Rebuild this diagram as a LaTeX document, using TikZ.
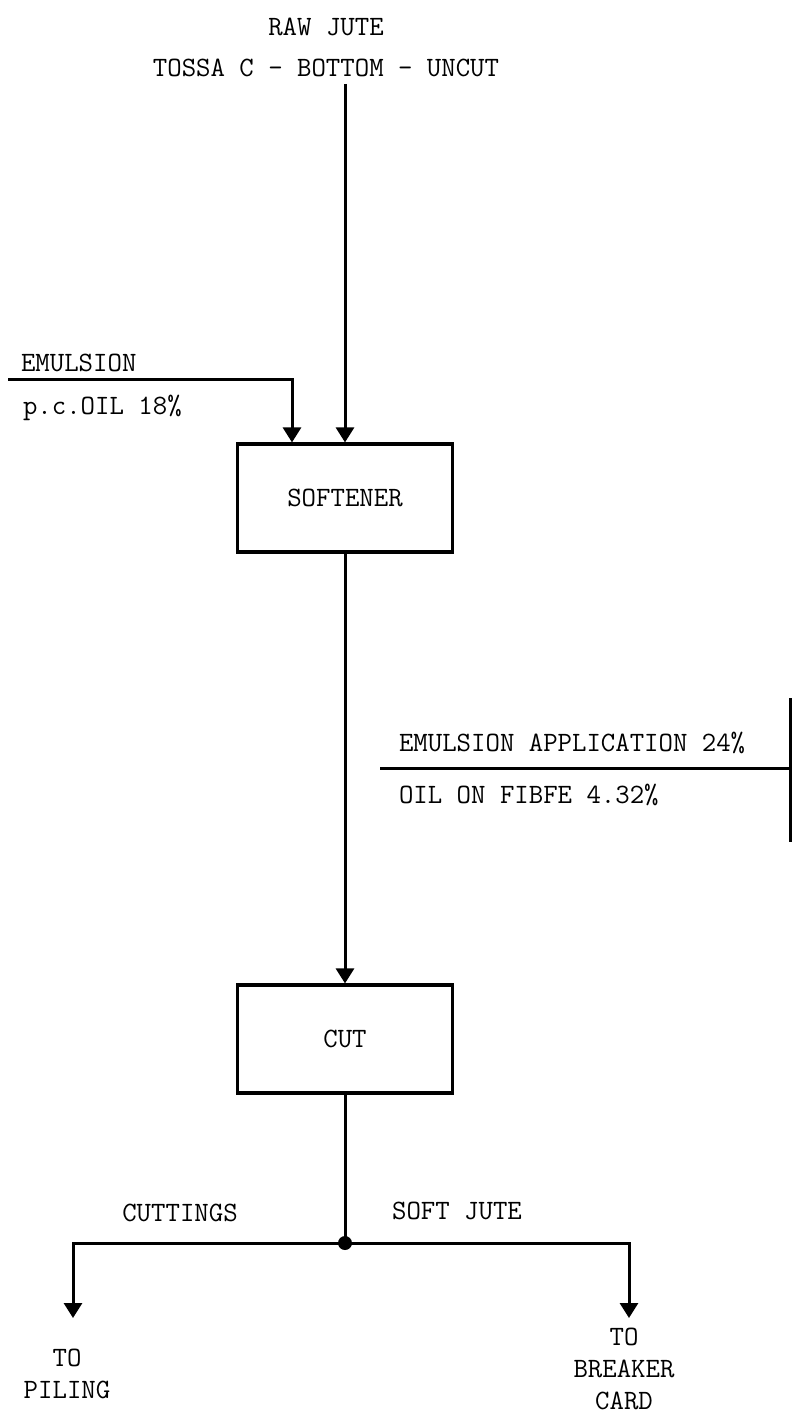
\documentclass[tikz,border=0pt]{standalone}
\usetikzlibrary{arrows.meta,positioning}

\begin{document}
\begin{tikzpicture}[x=0.5pt,y=-0.5pt,
        every node/.style={font=\fontsize{14}{16}\selectfont\ttfamily},
        box/.style={draw,line width=1.6pt,minimum width=107.5pt,minimum height=54pt},
        flow/.style={line width=1.5pt,-{Triangle[length=7.5pt,width=9pt]}},
        rule/.style={line width=1.5pt}]
  \useasboundingbox (0,0) rectangle (794,1426);
  \node (raw) at (326,27) {RAW JUTE};
  \node (tossa) at (326,68) {TOSSA C - BOTTOM - UNCUT};
  \node[box] (soft) at (345,498) {SOFTENER};
  \node[box] (cut) at (345,1039) {CUT};

  \node[anchor=west] (emul) at (14,363) {EMULSION};
  \node[anchor=west] (pcoil) at (16,408) {p.c.OIL 18\%};
  \coordinate (emin) at (8,379);
  \draw[flow] (emin) -| ([xshift=-26.5pt]soft.north);
  \draw[flow] (soft.north |- tossa.south) -- (soft.north);
  \draw[flow] (soft) -- (cut);

  \node[anchor=west] (appl) at (392,743) {EMULSION APPLICATION 24\%};
  \node[anchor=west] (oil) at (392,795) {OIL ON FIBFE 4.32\%};
  \coordinate (appw) at (380,768);
  \coordinate (appe) at (790,768);
  \coordinate (appt) at (790,698);
  \coordinate (appb) at (790,842);
  \draw[rule] (appw) -- (appe);
  \draw[rule] (appt) -- (appb);

  \coordinate (junc) at (345,1243);
  \coordinate (pileend) at (73,1318);
  \coordinate (cardend) at (629,1318);
  \draw[rule] (cut) -- (junc);
  \draw[flow] (junc) -| (pileend);
  \draw[flow] (junc) -| (cardend);
  \fill (junc) circle (3.5pt);
  \node (cuttings) at (180,1213) {CUTTINGS};
  \node (softjute) at (457,1211) {SOFT JUTE};
  \node[align=center] (pile) at (67,1374) {TO\\PILING};
  \node[align=center] (card) at (624,1369) {TO\\BREAKER\\CARD};
\end{tikzpicture}
\end{document}
